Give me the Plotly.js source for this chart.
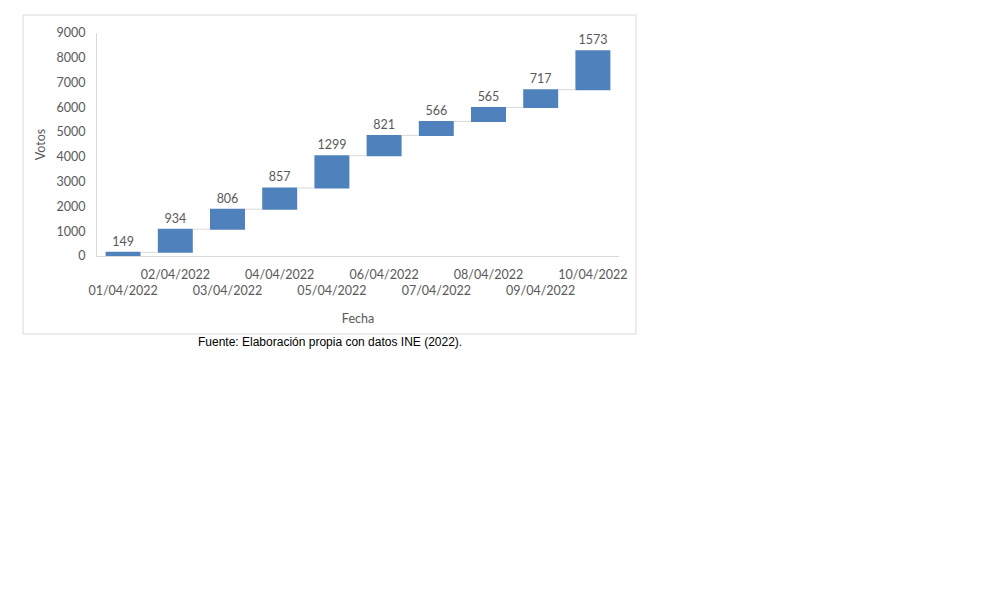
<!DOCTYPE html>
<html>
<head>
<meta charset="utf-8">
<script src="https://cdn.plot.ly/plotly-3.0.1.min.js"></script>
<style>
  html, body { margin: 0; padding: 0; background: #ffffff; }
  #chart { width: 982px; height: 604px; }
</style>
</head>
<body>
<div id="chart"></div>
<script>
// ---- Data ----
const fechas = ["01/04/2022", "02/04/2022", "03/04/2022", "04/04/2022", "05/04/2022",
                "06/04/2022", "07/04/2022", "08/04/2022", "09/04/2022", "10/04/2022"];
const votos = [149, 934, 806, 857, 1299, 821, 566, 565, 717, 1573];
const yTicks = [0, 1000, 2000, 3000, 4000, 5000, 6000, 7000, 8000, 9000];

// ---- Layout geometry (pixels) ----
const W = 982, H = 604;
const plotL = 97, plotR = 619, plotT = 33, plotB = 256;
const pw = plotR - plotL, ph = plotB - plotT;
const px = x => (x - plotL) / pw;
const py = y => (plotB - y) / ph;

const txtColor = "#595959";
const fontFam = "Lato, 'Open Sans', sans-serif";

// staggered tick labels: odd positions on the lower row
const tickText = fechas.map((f, i) => (i % 2 === 0 ? "<br>" + f : f));

const trace = {
  type: "waterfall",
  x: fechas,
  y: votos,
  measure: votos.map(() => "relative"),
  text: votos.map(v => String(v)),
  textposition: "outside",
  textfont: { family: fontFam, size: 12.5, color: txtColor },
  cliponaxis: false,
  increasing: { marker: { color: "#4f81bd", line: { width: 0 } } },
  decreasing: { marker: { color: "#4f81bd", line: { width: 0 } } },
  connector: { mode: "between", line: { color: "#d9d9d9", width: 1 } },
  hoverinfo: "skip"
};

const layout = {
  width: W, height: H,
  margin: { l: plotL, r: W - plotR, t: plotT, b: H - plotB, pad: 0 },
  paper_bgcolor: "#ffffff",
  plot_bgcolor: "#ffffff",
  showlegend: false,
  waterfallgap: 0.33,
  font: { family: fontFam, size: 12.5, color: txtColor },
  xaxis: {
    type: "category",
    tickmode: "array",
    tickvals: fechas,
    ticktext: tickText,
    tickangle: 0,
    ticks: "",
    showgrid: false,
    zeroline: false,
    showline: true,
    linecolor: "#d9d9d9",
    linewidth: 1,
    tickfont: { family: fontFam, size: 12.5, color: txtColor },
    ticklabelstandoff: 7,
    automargin: false,
    title: { text: "Fecha", font: { family: fontFam, size: 12.5, color: txtColor }, standoff: 16 }
  },
  yaxis: {
    range: [0, 9000],
    tickmode: "array",
    tickvals: yTicks,
    ticktext: yTicks.map(String),
    ticks: "",
    showgrid: false,
    zeroline: false,
    showline: true,
    linecolor: "#d9d9d9",
    linewidth: 1,
    tickfont: { family: fontFam, size: 12.5, color: txtColor },
    ticklabelstandoff: 8,
    automargin: false,
    title: { text: "Votos", font: { family: fontFam, size: 12.5, color: txtColor }, standoff: 8 }
  },
  shapes: [
    {
      type: "rect", xref: "paper", yref: "paper",
      x0: px(23), x1: px(636), y0: py(334), y1: py(15),
      line: { color: "#d9d9d9", width: 1 }, fillcolor: "rgba(0,0,0,0)", layer: "below"
    }
  ],
  annotations: [
    {
      text: "Fuente: Elaboración propia con datos INE (2022).",
      xref: "paper", yref: "paper",
      x: px(330), y: py(342),
      xanchor: "center", yanchor: "middle",
      showarrow: false,
      font: { family: "'Liberation Sans', Arial, sans-serif", size: 12, color: "#000000" }
    }
  ]
};

Plotly.newPlot("chart", [trace], layout, { displayModeBar: false, staticPlot: true });
</script>
</body>
</html>
